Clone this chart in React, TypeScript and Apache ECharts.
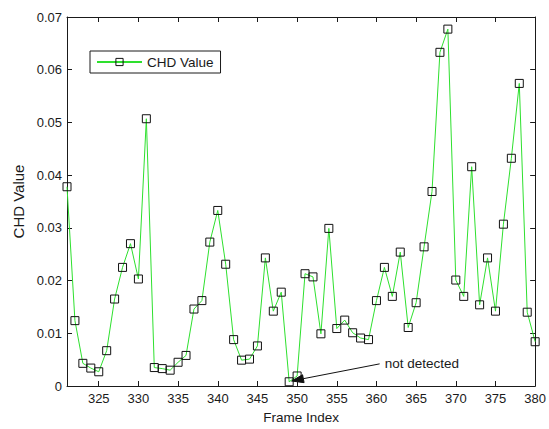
import React, { useEffect, useRef } from "react";
import * as echarts from "echarts";

const frames: number[] = [
  321, 322, 323, 324, 325, 326, 327, 328, 329, 330,
  331, 332, 333, 334, 335, 336, 337, 338, 339, 340,
  341, 342, 343, 344, 345, 346, 347, 348, 349, 350,
  351, 352, 353, 354, 355, 356, 357, 358, 359, 360,
  361, 362, 363, 364, 365, 366, 367, 368, 369, 370,
  371, 372, 373, 374, 375, 376, 377, 378, 379, 380,
];
const chdValues: number[] = [
  0.0378, 0.0124, 0.0043, 0.0034, 0.0027, 0.0067, 0.0165, 0.0225, 0.027, 0.0203,
  0.0507, 0.0035, 0.0033, 0.003, 0.0045, 0.0058, 0.0146, 0.0162, 0.0273, 0.0333,
  0.0231, 0.0088, 0.0049, 0.0051, 0.0076, 0.0243, 0.0142, 0.0178, 0.0008, 0.0019,
  0.0213, 0.0207, 0.0099, 0.0299, 0.0109, 0.0125, 0.0101, 0.0091, 0.0088, 0.0162,
  0.0225, 0.017, 0.0254, 0.0111, 0.0158, 0.0264, 0.0369, 0.0633, 0.0677, 0.0201,
  0.017, 0.0416, 0.0154, 0.0243, 0.0142, 0.0307, 0.0432, 0.0574, 0.014, 0.0084,
];
const xTicks: number[] = [325, 330, 335, 340, 345, 350, 355, 360, 365, 370, 375, 380];
const yTicks: number[] = [0, 0.01, 0.02, 0.03, 0.04, 0.05, 0.06, 0.07];
const seriesName = "CHD Value";
const annotationText = "not detected";
const annotationTarget: [number, number] = [349.3, 0.00095];
const annotationStart: [number, number] = [360.4, 0.0042];

const FONT = "Liberation Sans, Arial, sans-serif";
const INK = "#1a1a1a";
const GREEN = "#2ee02e";

export default function App() {
  const ref = useRef<HTMLDivElement>(null);
  useEffect(() => {
    if (!ref.current) return;
    const chart = echarts.init(ref.current, undefined, { renderer: "svg" });
    const tickCommon = {
      show: true,
      inside: true,
      length: 5,
      lineStyle: { color: INK, width: 1 },
    };
    const axisLineCommon = { show: true, onZero: false, lineStyle: { color: INK, width: 1 } };
    const option: any = {
      animation: false,
      backgroundColor: "#ffffff",
      textStyle: { fontFamily: FONT },
      grid: { left: 67, right: 13, top: 17, bottom: 41, containLabel: false },
      legend: {
        show: true,
        left: 90,
        top: 51,
        orient: "horizontal",
        backgroundColor: "#ffffff",
        borderColor: INK,
        borderWidth: 1,
        borderRadius: 0,
        padding: [4, 7, 4, 6],
        itemWidth: 45,
        itemHeight: 9,
        itemGap: 6,
        textStyle: { fontFamily: FONT, fontSize: 13.5, color: INK },
        data: [
          {
            name: seriesName,
            itemStyle: { color: "rgba(0,0,0,0)", borderColor: "#111111", borderWidth: 1 },
          },
        ],
      },
      xAxis: [
        {
          type: "value",
          min: 321,
          max: 380,
          name: "Frame Index",
          nameLocation: "middle",
          nameGap: 24,
          nameTextStyle: { fontFamily: FONT, fontSize: 13.5, color: INK },
          axisLine: axisLineCommon,
          axisTick: { ...tickCommon, customValues: xTicks },
          axisLabel: { show: true, customValues: xTicks, margin: 6, fontFamily: FONT, fontSize: 13, color: INK },
          splitLine: { show: false },
        },
        {
          type: "value",
          position: "top",
          min: 321,
          max: 380,
          axisLine: axisLineCommon,
          axisTick: { ...tickCommon, customValues: xTicks },
          axisLabel: { show: false, customValues: xTicks },
          splitLine: { show: false },
        },
      ],
      yAxis: [
        {
          type: "value",
          min: 0,
          max: 0.07,
          interval: 0.01,
          name: "CHD Value",
          nameLocation: "middle",
          nameGap: 41,
          nameTextStyle: { fontFamily: FONT, fontSize: 15, color: INK },
          axisLine: axisLineCommon,
          axisTick: { ...tickCommon, customValues: yTicks },
          axisLabel: {
            show: true,
            customValues: yTicks,
            margin: 5,
            fontFamily: FONT,
            fontSize: 13,
            color: INK,
            formatter: (v: number) => (v === 0 ? "0" : v.toFixed(2)),
          },
          splitLine: { show: false },
        },
        {
          type: "value",
          position: "right",
          min: 0,
          max: 0.07,
          interval: 0.01,
          axisLine: axisLineCommon,
          axisTick: { ...tickCommon, customValues: yTicks },
          axisLabel: { show: false, customValues: yTicks },
          splitLine: { show: false },
        },
      ],
      series: [
        {
          name: seriesName,
          type: "line",
          xAxisIndex: 0,
          yAxisIndex: 0,
          data: frames.map((f, i) => [f, chdValues[i]]),
          symbol: "rect",
          symbolSize: 8,
          showAllSymbol: true,
          lineStyle: { color: GREEN, width: 1 },
          itemStyle: { color: "rgba(0,0,0,0)", borderColor: "#111111", borderWidth: 1 },
          emphasis: { disabled: true },
        },
      ],
    };
    chart.setOption(option);
    const s = chart.convertToPixel({ xAxisIndex: 0, yAxisIndex: 0 } as any, annotationStart) as number[];
    const t = chart.convertToPixel({ xAxisIndex: 0, yAxisIndex: 0 } as any, annotationTarget) as number[];
    const dx = s[0] - t[0];
    const dy = s[1] - t[1];
    const len = Math.sqrt(dx * dx + dy * dy);
    const ux = dx / len;
    const uy = dy / len;
    const headLen = 12;
    const headHalf = 4;
    const bx = t[0] + ux * headLen;
    const by = t[1] + uy * headLen;
    const px = -uy;
    const py = ux;
    chart.setOption({
      graphic: [
        {
          type: "line",
          silent: true,
          shape: { x1: s[0], y1: s[1], x2: bx, y2: by },
          style: { stroke: "#111111", lineWidth: 1 },
        },
        {
          type: "polygon",
          silent: true,
          shape: {
            points: [
              [t[0], t[1]],
              [bx + px * headHalf, by + py * headHalf],
              [bx - px * headHalf, by - py * headHalf],
            ],
          },
          style: { fill: "#111111", stroke: "#111111", lineWidth: 1 },
        },
        {
          type: "text",
          silent: true,
          x: s[0] + 5,
          y: s[1],
          style: {
            text: annotationText,
            fontFamily: FONT,
            fontSize: 13.5,
            fill: INK,
            verticalAlign: "middle",
          },
        },
      ],
    });
    return () => chart.dispose();
  }, []);
  return (
    <div
      ref={ref}
      style={{ position: "fixed", left: 0, top: 0, width: 549, height: 429, background: "#fff" }}
    />
  );
}
